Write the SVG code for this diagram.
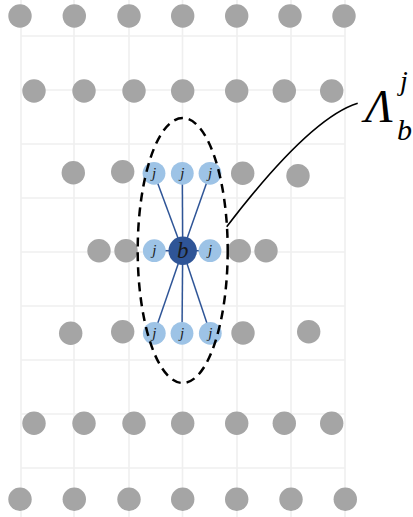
<svg xmlns="http://www.w3.org/2000/svg" width="413" height="517" viewBox="0 0 413 517">
<style>
.grid line{stroke:#EFEFEF;stroke-width:1.6}
.g{fill:#A5A5A5}
.j{fill:#9DC3E6}
.b{fill:#2F5597}
.lab{font-family:"Liberation Serif",serif;font-style:italic;fill:#1a1a1a;text-anchor:middle}
.edge{stroke:#2F5597;stroke-width:1.5}
.big{font-family:"Liberation Serif",serif;font-style:italic;fill:#000}
</style>
<rect width="413" height="517" fill="#fff"/>
<g class="grid">
<line x1="21" y1="0" x2="21" y2="517"/>
<line x1="74" y1="0" x2="74" y2="517"/>
<line x1="129" y1="0" x2="129" y2="517"/>
<line x1="182.5" y1="0" x2="182.5" y2="517"/>
<line x1="237" y1="0" x2="237" y2="517"/>
<line x1="291" y1="0" x2="291" y2="517"/>
<line x1="345" y1="0" x2="345" y2="517"/>
<line x1="21" y1="36" x2="345" y2="36"/>
<line x1="21" y1="90" x2="345" y2="90"/>
<line x1="21" y1="144" x2="345" y2="144"/>
<line x1="21" y1="198" x2="345" y2="198"/>
<line x1="21" y1="252" x2="345" y2="252"/>
<line x1="21" y1="306" x2="345" y2="306"/>
<line x1="21" y1="360" x2="345" y2="360"/>
<line x1="21" y1="414" x2="345" y2="414"/>
<line x1="21" y1="468" x2="345" y2="468"/>
</g>
<g id="gray-nodes">
<circle class="g" cx="20" cy="16" r="11.7"/><circle class="g" cx="74.3" cy="16" r="11.7"/><circle class="g" cx="129" cy="16" r="11.7"/><circle class="g" cx="182.7" cy="16" r="11.7"/><circle class="g" cx="236.7" cy="16" r="11.7"/><circle class="g" cx="290" cy="16" r="11.7"/><circle class="g" cx="344" cy="16" r="11.7"/>
<circle class="g" cx="34" cy="91" r="11.7"/><circle class="g" cx="84" cy="91" r="11.7"/><circle class="g" cx="134" cy="91" r="11.7"/><circle class="g" cx="182.7" cy="91" r="11.7"/><circle class="g" cx="236.7" cy="91" r="11.7"/><circle class="g" cx="284.3" cy="91" r="11.7"/><circle class="g" cx="331.7" cy="91" r="11.7"/>
<circle class="g" cx="73.3" cy="172.7" r="11.7"/><circle class="g" cx="122.7" cy="171.7" r="11.7"/><circle class="g" cx="242.7" cy="173.3" r="11.7"/><circle class="g" cx="298" cy="175.7" r="11.7"/>
<circle class="g" cx="99" cy="250.7" r="11.7"/><circle class="g" cx="126" cy="250.7" r="11.7"/><circle class="g" cx="239.3" cy="250.7" r="11.7"/><circle class="g" cx="266" cy="250.7" r="11.7"/>
<circle class="g" cx="70.7" cy="333.3" r="11.7"/><circle class="g" cx="122.7" cy="331.7" r="11.7"/><circle class="g" cx="243" cy="333" r="11.7"/><circle class="g" cx="308.7" cy="331.7" r="11.7"/>
<circle class="g" cx="34" cy="423.3" r="11.7"/><circle class="g" cx="84" cy="423.3" r="11.7"/><circle class="g" cx="134" cy="423.3" r="11.7"/><circle class="g" cx="182.7" cy="423.3" r="11.7"/><circle class="g" cx="236.7" cy="423.3" r="11.7"/><circle class="g" cx="284.3" cy="423.3" r="11.7"/><circle class="g" cx="331.7" cy="423.3" r="11.7"/>
<circle class="g" cx="20" cy="499.3" r="11.7"/><circle class="g" cx="74.3" cy="499.3" r="11.7"/><circle class="g" cx="129" cy="499.3" r="11.7"/><circle class="g" cx="182.7" cy="499.3" r="11.7"/><circle class="g" cx="236.7" cy="499.3" r="11.7"/><circle class="g" cx="291" cy="499.3" r="11.7"/><circle class="g" cx="345.3" cy="499.3" r="11.7"/>
</g>
<g id="connectors">
<line class="edge" x1="182.7" y1="250.7" x2="154" y2="173.3"/>
<line class="edge" x1="182.7" y1="250.7" x2="182.3" y2="173.3"/>
<line class="edge" x1="182.7" y1="250.7" x2="210" y2="173.3"/>
<line class="edge" x1="182.7" y1="250.7" x2="154.3" y2="250.7"/>
<line class="edge" x1="182.7" y1="250.7" x2="210" y2="250.7"/>
<line class="edge" x1="182.7" y1="250.7" x2="154.3" y2="333.3"/>
<line class="edge" x1="182.7" y1="250.7" x2="182" y2="333.3"/>
<line class="edge" x1="182.7" y1="250.7" x2="210.3" y2="333.3"/>
</g>
<g id="j-top-left"><circle class="j" cx="154" cy="173.3" r="11.4"/><text class="lab" x="154" y="178" font-size="15">j</text></g>
<g id="j-top-mid"><circle class="j" cx="182.3" cy="173.3" r="11.4"/><text class="lab" x="182.3" y="178" font-size="15">j</text></g>
<g id="j-top-right"><circle class="j" cx="210" cy="173.3" r="11.4"/><text class="lab" x="210" y="178" font-size="15">j</text></g>
<g id="j-mid-left"><circle class="j" cx="154.3" cy="250.7" r="11.4"/><text class="lab" x="154.3" y="255.4" font-size="15">j</text></g>
<g id="j-mid-right"><circle class="j" cx="210" cy="250.7" r="11.4"/><text class="lab" x="210" y="255.4" font-size="15">j</text></g>
<g id="j-bot-left"><circle class="j" cx="154.3" cy="333.3" r="11.4"/><text class="lab" x="154.3" y="338" font-size="15">j</text></g>
<g id="j-bot-mid"><circle class="j" cx="182" cy="333.3" r="11.4"/><text class="lab" x="182" y="338" font-size="15">j</text></g>
<g id="j-bot-right"><circle class="j" cx="210.3" cy="333.3" r="11.4"/><text class="lab" x="210.3" y="338" font-size="15">j</text></g>
<g id="b-node"><circle class="b" cx="182.7" cy="250.7" r="14.2"/><text class="lab" x="182.7" y="258" font-size="23">b</text></g>
<g id="neighborhood">
<ellipse cx="182.7" cy="250.5" rx="45" ry="132.5" fill="none" stroke="#000" stroke-width="2.5" stroke-dasharray="9 6"/>
</g>
<g id="callout">
<path d="M357.7,103.3 Q310,118 226.7,226.7" fill="none" stroke="#000" stroke-width="1.6"/>
<text class="big" x="365" y="122" font-size="46">Λ</text>
<text class="big" x="400" y="90" font-size="28">j</text>
<text class="big" x="397" y="140" font-size="30">b</text>
</g>
</svg>
